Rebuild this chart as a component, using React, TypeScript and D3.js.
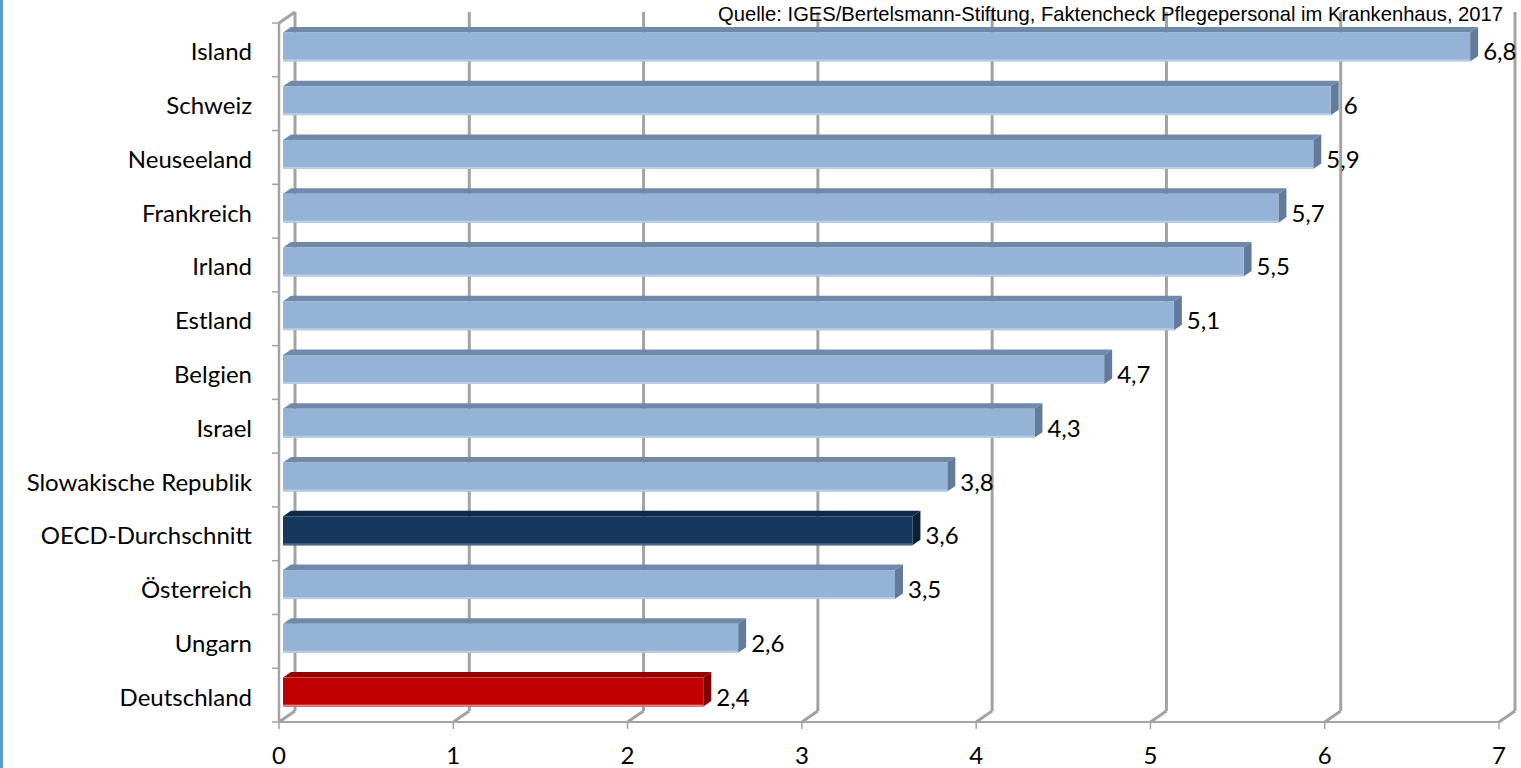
import React from "react";
import * as d3 from "d3";

const categories = [
  "Island",
  "Schweiz",
  "Neuseeland",
  "Frankreich",
  "Irland",
  "Estland",
  "Belgien",
  "Israel",
  "Slowakische Republik",
  "OECD-Durchschnitt",
  "Österreich",
  "Ungarn",
  "Deutschland",
];
const values = [6.8, 6, 5.9, 5.7, 5.5, 5.1, 4.7, 4.3, 3.8, 3.6, 3.5, 2.6, 2.4];
const xTicks = [0, 1, 2, 3, 4, 5, 6, 7];
const sourceText =
  "Quelle: IGES/Bertelsmann-Stiftung, Faktencheck Pflegepersonal im Krankenhaus, 2017";

const W = 1521;
const H = 768;

const palette: Record<string, { front: string; top: string; side: string; edge: string }> = {
  default: { front: "#95B3D7", top: "#7189A8", side: "#637B9B", edge: "#B9CDE5" },
  "OECD-Durchschnitt": { front: "#17375E", top: "#10284A", side: "#0C2039", edge: "#4A6A90" },
  Deutschland: { front: "#C00000", top: "#960000", side: "#820000", edge: "#E08080" },
};

export default function App() {
  const x = d3.scaleLinear().domain([0, 7]).range([279, 1499]);
  const y = d3.scaleBand<string>().domain(categories).range([23, 722]).padding(0);
  const bw = y.bandwidth();
  const dX = 16; // wall depth
  const dY = -11;
  const bdx = 8; // bar depth
  const bdy = -5.5;
  const fmt = (v: number) => String(v).replace(".", ",");
  const font = "Lato, 'Open Sans', sans-serif";
  const grid = "#A3A3A3";

  const yTop = y.range()[0];
  const yBot = y.range()[1];

  return (
    <svg
      width={W}
      height={H}
      style={{ position: "absolute", left: 0, top: 0, background: "#fff" }}
    >
      <rect x={0} y={0} width={W} height={H} fill="#fff" />
      <rect x={0} y={0} width={3} height={H} fill="#5B9BD0" />

      {/* back wall gridlines */}
      {xTicks.map((t) => (
        <g key={"g" + t}>
          <line
            x1={x(t) + dX}
            x2={x(t) + dX}
            y1={yTop + dY}
            y2={yBot + dY}
            stroke={grid}
            strokeWidth={3}
          />
          <line
            x1={x(t)}
            y1={yBot}
            x2={x(t) + dX}
            y2={yBot + dY}
            stroke={grid}
            strokeWidth={3}
          />
        </g>
      ))}
      {/* left wall top diagonal */}
      <line x1={x(0)} y1={yTop} x2={x(0) + dX} y2={yTop + dY} stroke={grid} strokeWidth={3} />
      {/* front vertical axis */}
      <line x1={x(0)} x2={x(0)} y1={yTop} y2={yBot} stroke={grid} strokeWidth={2.5} />
      {categories.map((c) => (
        <line
          key={"t" + c}
          x1={x(0) - 7}
          x2={x(0)}
          y1={y(c)!}
          y2={y(c)!}
          stroke={grid}
          strokeWidth={1.5}
        />
      ))}
      <line x1={x(0) - 7} x2={x(0)} y1={yBot} y2={yBot} stroke={grid} strokeWidth={1.5} />
      {/* front horizontal axis */}
      <line x1={x(0)} x2={x(7)} y1={yBot} y2={yBot} stroke={grid} strokeWidth={2} />
      {xTicks.map((t) => (
        <line
          key={"xt" + t}
          x1={x(t)}
          x2={x(t)}
          y1={yBot}
          y2={yBot + 7}
          stroke={grid}
          strokeWidth={1.5}
        />
      ))}

      {/* bars */}
      {categories.map((c, i) => {
        const v = values[i];
        const col = palette[c] || palette.default;
        const cy = y(c)! + bw / 2;
        const t = cy - 17.5;
        const b = cy + 11.5;
        const x0 = x(0) + 4;
        const x1 = x(v) + 6;
        return (
          <g key={"b" + c}>
            <polygon
              points={`${x0},${t} ${x0 + bdx},${t + bdy} ${x1 + bdx},${t + bdy} ${x1},${t}`}
              fill={col.top}
            />
            <polygon
              points={`${x1},${t} ${x1 + bdx},${t + bdy} ${x1 + bdx},${b + bdy} ${x1},${b}`}
              fill={col.side}
            />
            <rect x={x0} y={t} width={x1 - x0} height={b - t} fill={col.front} />
            <rect x={x0} y={b - 2} width={x1 - x0} height={2} fill={col.edge} />
            <text
              x={x(v) + 19}
              y={cy + 1}
              fontFamily={font}
              fontSize={24}
              fill="#000"
              dominantBaseline="central"
            >
              {fmt(v)}
            </text>
          </g>
        );
      })}

      {/* category labels */}
      {categories.map((c) => (
        <text
          key={"l" + c}
          x={252}
          y={y(c)! + bw / 2 + 1}
          textAnchor="end"
          dominantBaseline="central"
          fontFamily={font}
          fontSize={24}
          fill="#000"
        >
          {c}
        </text>
      ))}

      {/* x tick labels */}
      {xTicks.map((t) => (
        <text
          key={"xl" + t}
          x={x(t)}
          y={754}
          textAnchor="middle"
          dominantBaseline="central"
          fontFamily={font}
          fontSize={24}
          fill="#000"
        >
          {t}
        </text>
      ))}

      {/* source */}
      <text
        x={718}
        y={21}
        fontFamily="'Liberation Sans', Arial, sans-serif"
        fontSize={21}
        fill="#000"
        textLength={785}
        lengthAdjust="spacingAndGlyphs"
      >
        {sourceText}
      </text>
    </svg>
  );
}
